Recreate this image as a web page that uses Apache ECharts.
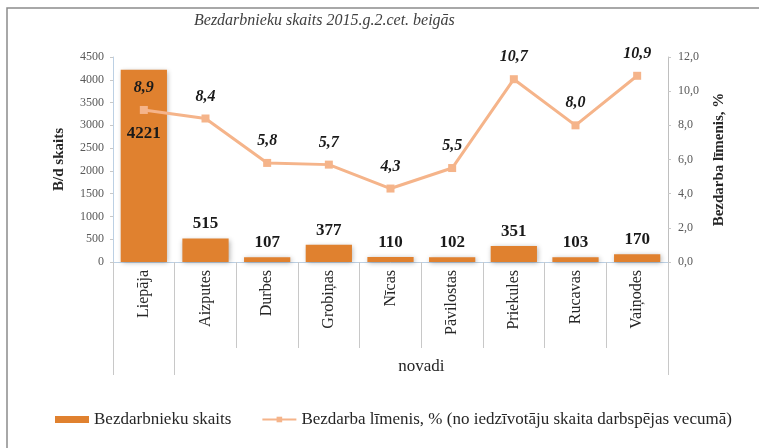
<!DOCTYPE html>
<html>
<head>
<meta charset="utf-8">
<script src="https://cdn.jsdelivr.net/npm/echarts@6/dist/echarts.min.js"></script>
<style>
    html, body { margin: 0; padding: 0; background: #fff; }
    #chart_01 { width: 759px; height: 448px; }
</style>
</head>
<body>
<div id="chart_01"></div>
<script>
// data
var categories = ['Liepāja', 'Aizputes', 'Durbes', 'Grobiņas', 'Nīcas', 'Pāvilostas', 'Priekules', 'Rucavas', 'Vaiņodes'];
var unemployed = [4221, 515, 107, 377, 110, 102, 351, 103, 170];
var rate = [8.9, 8.4, 5.8, 5.7, 4.3, 5.5, 10.7, 8.0, 10.9];
var groupLabel = 'novadi';

var serif = '"Liberation Serif", "DejaVu Serif", serif';
var axisGray = '#595959';
var lineGray = '#c8c8c8';

var myChart = echarts.init(document.getElementById('chart_01'));

var barData = unemployed.map(function (v, i) {
    if (i === 0) {
        return { value: v, label: { position: 'insideTop', distance: 55 } };
    }
    return v;
});

var option = {
    animation: false,
    backgroundColor: '#fff',
    textStyle: { fontFamily: serif },
    title: {
        text: 'Bezdarbnieku skaits 2015.g.2.cet. beigās',
        left: 189,
        top: 8,
        textStyle: {
            fontFamily: serif,
            fontStyle: 'italic',
            fontWeight: 'normal',
            fontSize: 16,
            color: '#404040'
        }
    },
    graphic: [{
        type: 'rect',
        shape: { x: 7, y: 8, width: 800, height: 500 },
        style: { fill: 'none', stroke: '#8c8c8c', lineWidth: 1.5 },
        z: -1
    }],
    legend: {
        top: 406,
        left: 50,
        itemGap: 30,
        itemWidth: 34,
        itemHeight: 7,
        textStyle: { fontFamily: serif, fontSize: 17, color: '#262626' },
        data: [
            { name: 'Bezdarbnieku skaits', icon: 'rect' },
            { name: 'Bezdarba līmenis, % (no iedzīvotāju skaita darbspējas vecumā)' }
        ]
    },
    grid: { left: 113, right: 91, top: 57, bottom: 186 },
    xAxis: [
        {
            type: 'category',
            data: categories,
            axisLine: { lineStyle: { color: '#bcd0e4' } },
            axisTick: { show: true, interval: 0, length: 86, lineStyle: { color: lineGray } },
            axisLabel: {
                interval: 0,
                rotate: 90,
                margin: 8,
                fontFamily: serif,
                fontSize: 16,
                color: '#262626'
            }
        },
        {
            type: 'value',
            position: 'bottom',
            min: 0,
            max: categories.length,
            splitLine: { show: false },
            axisLine: { show: false },
            axisTick: {
                show: true,
                length: 113,
                customValues: [0, 1, categories.length],
                lineStyle: { color: lineGray }
            },
            axisLabel: {
                customValues: [(1 + categories.length) / 2],
                formatter: function () { return groupLabel; },
                margin: 96,
                fontFamily: serif,
                fontSize: 17,
                color: '#262626'
            }
        }
    ],
    yAxis: [
        {
            type: 'value',
            name: 'B/d skaits',
            nameLocation: 'middle',
            nameRotate: 90,
            nameGap: 46,
            nameTextStyle: { fontFamily: serif, fontWeight: 'bold', fontSize: 15, color: '#262626' },
            min: 0,
            max: 4500,
            interval: 500,
            splitLine: { show: false },
            axisLine: { show: true, lineStyle: { color: '#bcd0e4' } },
            axisTick: { show: true, length: 3, lineStyle: { color: lineGray } },
            axisLabel: {
                fontFamily: serif,
                fontSize: 12,
                color: axisGray,
                margin: 9,
                formatter: function (v) { return String(v); }
            }
        },
        {
            type: 'value',
            name: 'Bezdarba līmenis, %',
            nameLocation: 'middle',
            nameRotate: 90,
            nameGap: 44,
            nameTextStyle: { fontFamily: serif, fontWeight: 'bold', fontSize: 15, color: '#262626' },
            min: 0,
            max: 12,
            interval: 2,
            splitLine: { show: false },
            axisLine: { show: true, lineStyle: { color: '#bfbfbf' } },
            axisTick: { show: true, length: 3, lineStyle: { color: lineGray } },
            axisLabel: {
                fontFamily: serif,
                fontSize: 12,
                color: axisGray,
                margin: 10,
                formatter: function (v) { return v.toFixed(1).replace('.', ','); }
            }
        }
    ],
    series: [
        {
            name: 'Bezdarbnieku skaits',
            type: 'bar',
            xAxisIndex: 0,
            yAxisIndex: 0,
            data: barData,
            barWidth: '75%',
            itemStyle: {
                color: '#e0812f',
                shadowColor: 'rgba(0,0,0,0.3)',
                shadowBlur: 5,
                shadowOffsetX: 1,
                shadowOffsetY: 1
            },
            label: {
                show: true,
                position: 'top',
                distance: 6,
                fontFamily: serif,
                fontWeight: 'bold',
                fontSize: 17,
                color: '#1a1a1a'
            }
        },
        {
            name: 'Bezdarba līmenis, % (no iedzīvotāju skaita darbspējas vecumā)',
            type: 'line',
            xAxisIndex: 0,
            yAxisIndex: 1,
            data: rate,
            symbol: 'rect',
            symbolSize: 8,
            z: 5,
            lineStyle: { width: 3, color: '#f5b48a' },
            itemStyle: { color: '#f5b48a' },
            label: {
                show: true,
                position: 'top',
                distance: 10,
                fontFamily: serif,
                fontStyle: 'italic',
                fontWeight: 'bold',
                fontSize: 16,
                color: '#1a1a1a',
                formatter: function (p) { return p.value.toFixed(1).replace('.', ','); }
            }
        }
    ]
};

myChart.setOption(option);
window.addEventListener('resize', function () {
    myChart.resize();
});
</script>
</body>
</html>
